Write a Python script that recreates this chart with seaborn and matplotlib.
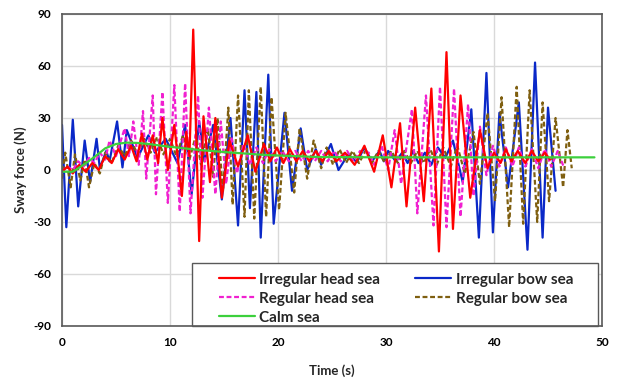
import matplotlib
matplotlib.use("Agg")
import matplotlib.pyplot as plt
from matplotlib.patches import Rectangle
import seaborn as sns
import pandas as pd

# ---------------- data ----------------
calm_t = [0, 1, 2, 3, 3.5, 4, 5, 6, 7, 8, 9.7, 12.8, 15.8, 19, 23.6, 30, 40, 49.3]
calm_v = [-1, -1, 3, 7.5, 10, 12.5, 15, 15.8, 15.6, 15, 13.6, 11.5, 10, 8.6, 7.5, 7.3, 7.3, 7.3]

ih_t = [0, 0.5, 1.0, 1.6, 2.2, 2.8, 3.4, 4.0, 4.6, 5.2, 5.8, 6.4, 6.9, 7.4, 7.9, 8.4, 8.9,
        9.3, 9.8, 10.4, 11.1, 11.5, 11.8, 12.15, 12.7, 13.1, 13.7, 14.2, 14.8, 15.5, 16.3,
        17.2, 17.9, 18.7, 19.3, 19.9, 20.5, 21.1, 21.7, 22.3, 22.9, 23.5, 24.1, 24.7, 25.4,
        26.2, 27.1, 28.0, 28.9, 29.7, 30.5, 31.3, 31.9, 32.7, 33.5, 34.2, 34.9, 35.6, 36.2,
        36.9, 37.8, 38.7, 39.4, 40.0, 40.6, 41.1, 41.6, 42.2, 42.9, 43.5, 44.1, 44.7, 45.2]
ih_v = [-1, 2, -2, 3, -1, 4, 0, 8, 4, 12, 6, 14, 5, 21, 6, 20, 4,
        30, 0, 26, -15, 22, 8, 81, -41, 31, -7, 30, -16, 17, 2,
        20, -1, 15, 5, 13, 4, 12, 5, 11, 5, 11, 5, 11, 5,
        10, 3, 14, -1, 20, -10, 27, -21, 36, -18, 47, -47, 68, -34,
        43, -16, 23, 1, 10, 4, 12, 5, 11, 4, 11, 5, 10, 6]

ib_t = [0, 0.4, 1.0, 1.5, 2.1, 2.6, 3.2, 3.5, 4.1, 4.4, 5.1, 5.6, 6.0, 7.0, 8.0, 8.6, 9.6,
        10.7, 11.4, 12.0, 12.7, 13.2, 14.0, 14.8, 15.6, 16.3, 16.9, 17.4, 18.0, 18.4, 19.1,
        19.6, 20.6, 21.3, 22.1, 22.7, 23.5, 24.0, 24.9, 25.6, 26.5, 27.3, 28.0, 28.7, 29.4,
        29.8, 30.2, 30.9, 31.5, 32.0, 32.5, 33.0, 33.6, 34.2, 34.8, 35.5, 36.2, 37.1, 37.9,
        38.6, 39.3, 39.9, 40.5, 41.3, 42.3, 43.1, 43.8, 44.5, 45.0, 45.7]
ib_v = [26, -33, 29, -21, 17, -7, 18, 1, 11, 5, 28, 1.5, 23, 7, 20, 10, 18,
        4, 26, -14, 28, 5, 26, -17, 30, -32, 46, -22, 45, -39, 55,
        -31, 33, -12, 24, 0, 12, 3, 15, 0, 9, 4.5, 13, 5, 11,
        5, 11, 5, 10, 4, 11, 4, 10, 3, 13, 7, 17, -7, 35,
        -39, 56, -36, 33, -10, 39, -46, 62, -39, 36, -12]

rh_t = [0, 0.5, 1.0, 1.5, 2.0, 2.5, 3.0, 3.5, 4.0, 4.4, 5.0, 5.8, 6.2, 6.6, 7.1, 7.5, 7.8,
        8.4, 8.7, 9.3, 9.8, 10.4, 10.9, 11.4, 11.9, 12.6, 13.0, 13.6, 14.2, 14.7, 15.2, 15.7,
        16.2, 16.8, 17.4, 18.0, 18.6, 19.2, 19.8, 20.4, 21.0, 21.6, 22.2, 22.8, 23.4, 24.0,
        24.6, 25.2, 25.8, 26.4, 27.0, 27.6, 28.4, 28.9, 29.6, 30.2, 30.8, 31.4, 32.4, 32.9,
        33.7, 34.4, 35.0, 35.6, 36.3, 36.9, 37.6, 38.1, 38.7, 39.3, 39.9, 40.5, 41.1, 41.7,
        42.3, 42.9, 43.5, 44.1, 44.7, 45.3, 45.9, 46.5]
rh_v = [-1, 2, 0, 5, 2, 7, 4, 10, 6, 17, 8, 24, 8, 28, 3, 34, -5,
        43, -14, 45, -19, 49, -24, 50, -25, 43, -16, 36, -14, 28, -8, 19,
        -2, 15, 3, 13, 4, 12, 5, 11, 5, 11, 5, 11, 5, 11,
        5, 11, 5, 11, 5, 11, 10, 3, 14, 0, 23, -8, 35, -25,
        43, -32, 48, -33, 47, -27, 38, -15, 25, -3, 14, 2, 13, 2,
        13, 2, 12, 1, 12, 2, 11, 1]

rb_t = [0, 0.3, 0.8, 1.2, 1.7, 2.1, 2.5, 3.0, 3.5, 4.0, 4.6, 5.2, 5.8, 6.4, 7.0, 7.6, 8.2,
        8.8, 9.4, 10.0, 10.6, 11.2, 11.8, 12.4, 12.9, 13.5, 14.0, 14.4, 14.9, 15.4, 15.8,
        16.3, 16.9, 17.3, 17.8, 18.4, 18.9, 19.4, 20.1, 20.7, 21.5, 22.0, 22.7, 23.3, 24.0,
        24.5, 25.1, 25.7, 26.3, 26.9, 27.5, 28.1, 28.7, 29.3, 29.9, 30.5, 31.1, 31.7, 32.3,
        32.9, 33.5, 34.1, 34.7, 35.3, 36.0, 36.6, 37.3, 38.1, 38.7, 39.4, 40.1, 40.7, 41.4,
        42.1, 42.7, 43.3, 44.0, 44.5, 45.1, 45.7, 46.4, 46.8, 47.2]
rb_v = [-5, 10, -10, 9, -6, 6, -10, 4, -2, 10, 4, 14, 8, 17, 9, 18, 10,
        19, 9, 18, 8, 20, 6, 20, 2, 24, -4, 30, -13, 36, -20,
        43, -27, 46, -28, 48, -27, 42, -23, 33, -13, 24, -5, 17, 1,
        13, 3, 12, 4, 11, 4, 11, 4, 11, 4, 11, 4, 11, 4,
        11, 4, 12, 3, 13, 2, 14, -2, 22, -8, 33, -18, 42, -33,
        48, -31, 46, -30, 39, -18, 30, -10, 23, 1]

labels = ["Irregular head sea", "Regular head sea", "Calm sea",
          "Irregular bow sea", "Regular bow sea"]
x_ticks = [0, 10, 20, 30, 40, 50]
y_ticks = [-90, -60, -30, 0, 30, 60, 90]

# ---------------- plot ----------------
sns.set_theme(style="white")
plt.rcParams['font.family'] = ['Lato', 'DejaVu Sans']
plt.rcParams['axes.unicode_minus'] = False

fig = plt.figure(figsize=(6.22, 3.84), dpi=100)
ax = fig.add_axes([62/622, 1-326/384, 540/622, 312/384])

series = [
    (ih_t, ih_v, labels[0], "#FF0000", "-"),
    (rh_t, rh_v, labels[1], "#F020D0", (0, (2.2, 1.2))),
    (calm_t, calm_v, labels[2], "#3CD03C", "-"),
    (ib_t, ib_v, labels[3], "#0A28C8", "-"),
    (rb_t, rb_v, labels[4], "#7F5F10", (0, (2.2, 1.2))),
]
order_draw = [3, 4, 1, 0, 2]
for i in order_draw:
    t, v, lab, col, ls = series[i]
    df = pd.DataFrame({"t": t, "v": v})
    sns.lineplot(data=df, x="t", y="v", ax=ax, color=col, linewidth=1.6,
                 linestyle=ls, label=lab, estimator=None, sort=False)

ax.set_xlim(0, 50)
ax.set_ylim(-90, 90)
ax.set_xticks(x_ticks)
ax.set_yticks(y_ticks)
ax.grid(True, color="#D9D9D9", linewidth=1.0)
ax.set_axisbelow(True)
for s in ax.spines.values():
    s.set_color("#595959")
    s.set_linewidth(1.2)
    s.set_zorder(6)
ax.tick_params(axis="both", length=0, pad=8, labelsize=8.5, labelcolor="#000000")
for lbl in ax.get_xticklabels() + ax.get_yticklabels():
    lbl.set_fontweight("bold")
ax.set_xlabel("Time (s)", fontsize=9.5, fontweight="bold", labelpad=12)
ax.set_ylabel("Sway force (N)", fontsize=9.5, fontweight="bold", labelpad=4)

# legend box (frame drawn as a rectangle so horizontal padding matches)
x0 = (192 - 62) / 540
x1 = (598 - 62) / 540
y1 = (326 - 263) / 312
ax.add_patch(Rectangle((x0, 0), x1 - x0, y1, transform=ax.transAxes,
                       facecolor="white", edgecolor="#595959", linewidth=1.0,
                       zorder=4.5, clip_on=False))
h, l = ax.get_legend_handles_labels()
hm = dict(zip(l, h))
leg = ax.legend([hm[x] for x in labels], labels, ncol=2, loc="upper left",
                bbox_to_anchor=((211 - 62) / 540, (326 - 265) / 312),
                frameon=False, handlelength=2.35, columnspacing=2.3,
                borderpad=0.0, labelspacing=0.33, handletextpad=0.3,
                prop={"weight": "bold", "size": 11})
leg.set_zorder(5)

fig.savefig("out.png", dpi=100)
